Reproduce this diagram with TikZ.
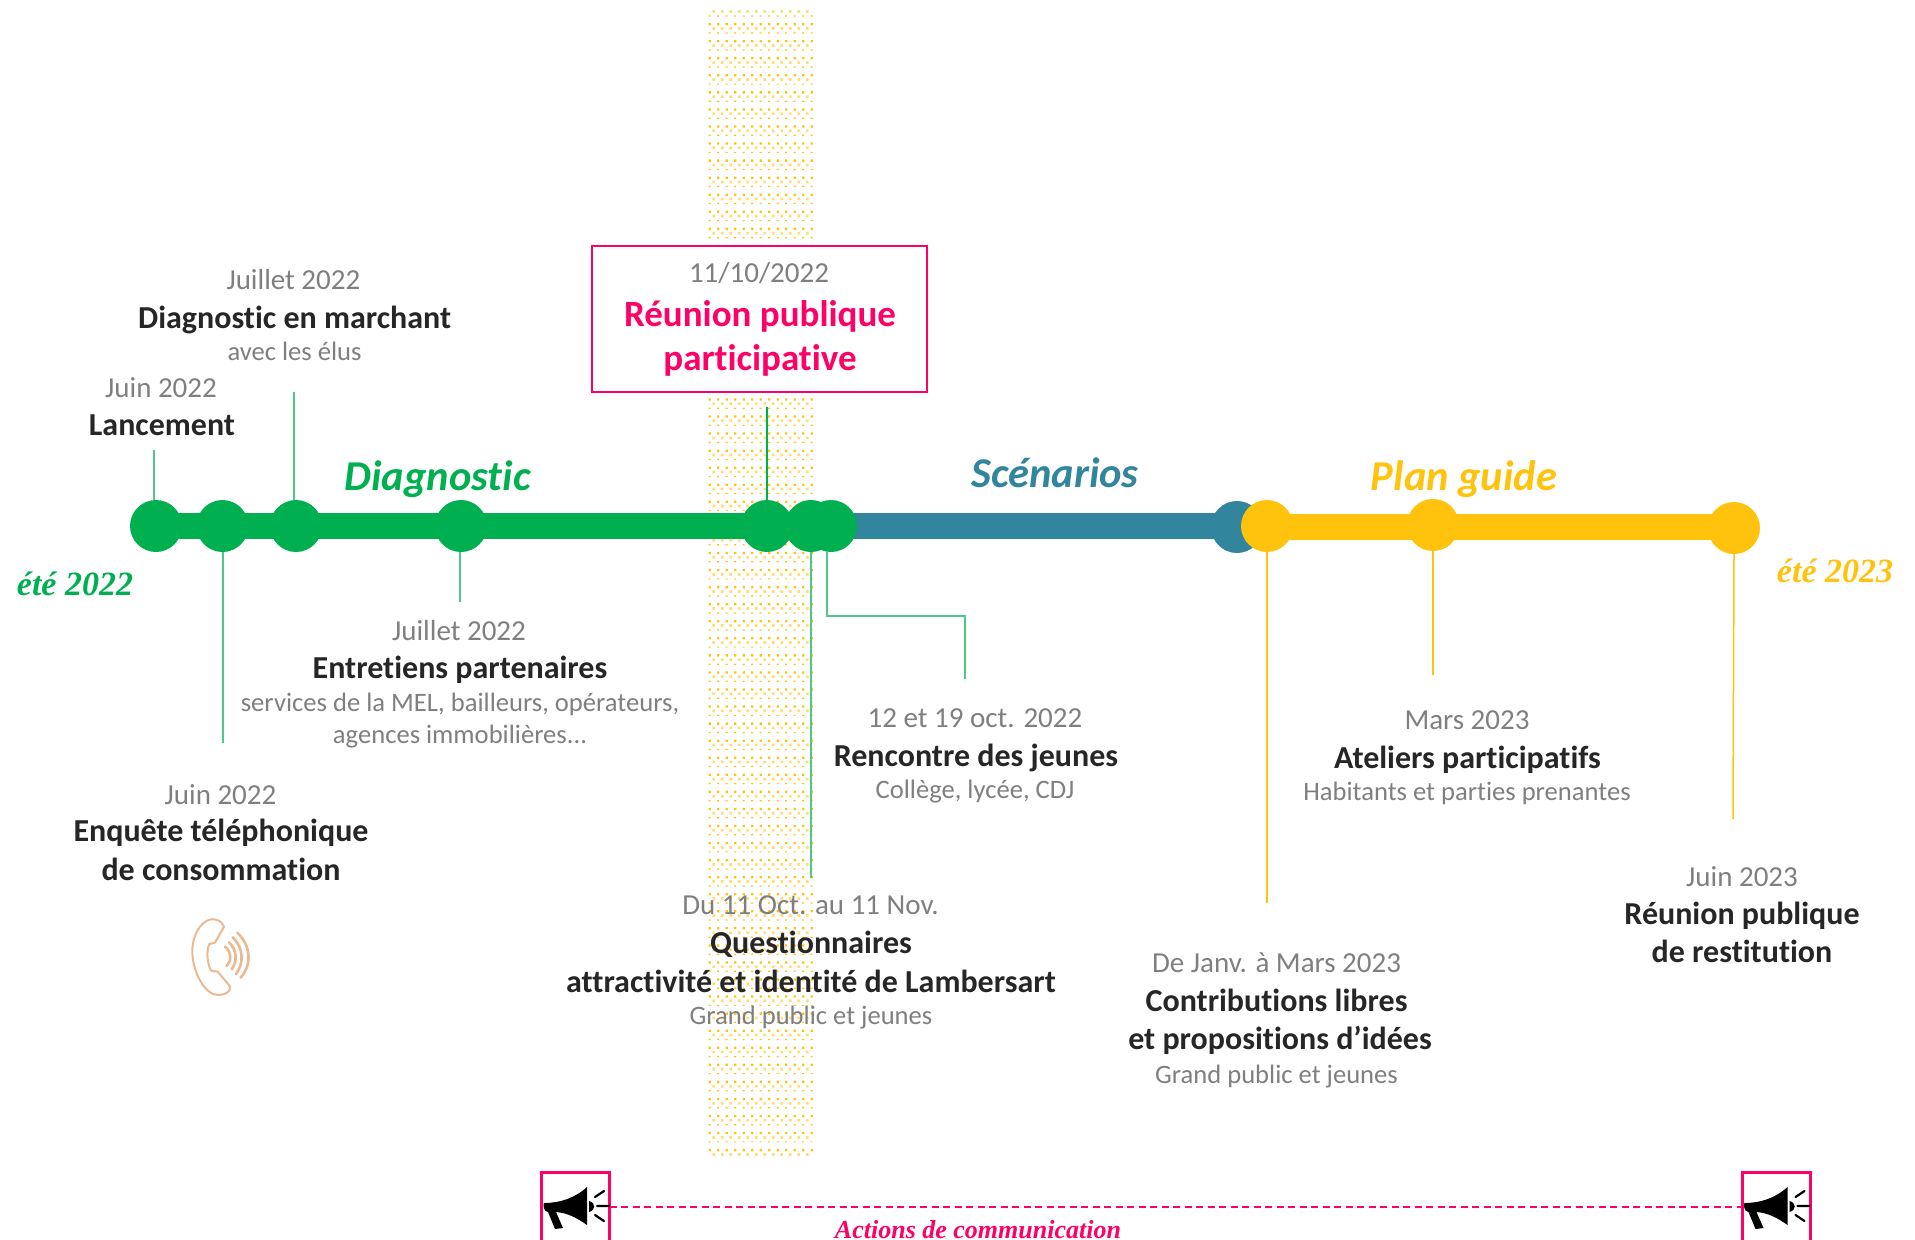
\documentclass[tikz,border=0pt]{standalone}
\usepackage{fontspec}
\setmainfont{Carlito}[Ligatures=NoCommon]
\newfontfamily\scriptf{Liberation Serif}
\definecolor{vert}{HTML}{00B050}
\definecolor{vertl}{HTML}{4CC98A}
\definecolor{bleu}{HTML}{31859C}
\definecolor{jaune}{HTML}{FFC30D}
\definecolor{rose}{HTML}{FF0066}
\definecolor{gristxt}{HTML}{7F7F7F}
\definecolor{noirtxt}{HTML}{262626}
\definecolor{tel}{HTML}{EBB88F}
\tikzset{
 x=1pt,y=-1pt,
 txt/.style={inner sep=0pt,anchor=center,text height=.72em,text depth=.2em,align=center},
 datel/.style={txt,yshift=-7pt,text=gristxt,font=\fontsize{29}{32}\selectfont},
 sub/.style={txt,yshift=-6pt,text=gristxt,font=\fontsize{26.6}{30}\selectfont},
 tit/.style={txt,yshift=-8pt,text=noirtxt,font=\fontsize{32}{36}\bfseries\selectfont},
 boxtit/.style={txt,yshift=-10pt,text=rose,font=\fontsize{37}{40}\bfseries\selectfont},
 phase/.style={txt,yshift=-11pt,font=\fontsize{42.5}{46}\bfseries\itshape\selectfont},
 ete/.style={txt,yshift=-9pt,font=\fontsize{34}{40}\scriptf\bfseries\itshape\selectfont},
 dot/.style={circle,fill=#1,draw=none,minimum size=52pt,inner sep=0pt},
 bar/.style={line width=26.5pt,draw=#1},
 leadg/.style={draw=vertl,line width=1.8pt},
 leady/.style={draw=jaune,line width=1.5pt},
 megabox/.style={draw=rose,line width=3pt},
}
\newcommand{\megaphone}{%
 \fill[black] (544,1203) .. controls (560,1203) and (575,1198) .. (587,1187) -- (587,1225)
   .. controls (577,1218) and (568,1213) .. (556,1212) -- (563,1228) -- (555,1229) -- (548,1212)
   .. controls (543,1212) and (543,1203) .. (544,1203) -- cycle;
 \fill[black] (589,1201) .. controls (596,1203) and (596,1210) .. (589,1212) -- cycle;
 \draw[black,line width=2.2pt,line cap=round] (595,1197) -- (604,1191) (597,1206) -- (609,1206) (595,1215) -- (604,1221);
}
\begin{document}
\begin{tikzpicture}
\useasboundingbox (0,0) rectangle (1915,1240);
% dotted band
\fill[jaune!55] \foreach \r in {0,...,67}{\foreach \c in {0,...,11}{({712.3+8.5*\c},{10+17.06*\r}) rectangle ++(2.8,2.8)}};
\fill[jaune] \foreach \r in {0,...,66}{\foreach \c in {0,...,12}{({708.5+8.5*\c},{15.3+17.06*\r}) rectangle ++(2.2,1.2)}};
\fill[jaune] \foreach \r in {0,...,66}{\foreach \c in {0,...,12}{({708.5+8.5*\c},{23+17.06*\r}) rectangle ++(2.3,2.3)}};
% box
\node[draw=rose,line width=2pt,fill=white,minimum width=335pt,minimum height=146pt,inner sep=0pt] (box) at (759.5,318.5) {};
% dots
\node[dot=vert] (d1) at (156,526) {};
\node[dot=vert] (d2) at (222.5,526) {};
\node[dot=vert] (d3) at (296,526) {};
\node[dot=vert] (d4) at (461,526) {};
\node[dot=vert] (d5) at (767,526) {};
\node[dot=bleu] (t1) at (1237,527) {};
\coordinate (t0) at (831,526);
\draw[bar=bleu] (t0) -- (t0 -| t1);
\node[dot=jaune] (y1) at (1267,526) {};
\node[dot=jaune] (y2) at (1433,525) {};
\node[dot=jaune] (y3) at (1734,528) {};
\node[dot=vert] (d7) at (t0) {};
\node[dot=vert] (d6) at (811,526) {};
\draw[bar=vert] (d1.center) -- (d5.center);
\coordinate (yb) at (0,527);
\draw[bar=jaune] (y1 |- yb) -- (y3 |- yb);
% leader free ends
\coordinate (e1) at (154,450);
\coordinate (e2) at (223,743);
\coordinate (e3) at (294,392);
\coordinate (e4) at (460,602);
\coordinate (e5) at (767,407);
\coordinate (e6) at (811,878);
\coordinate (e7) at (827,616);
\coordinate (e7b) at (965,616);
\coordinate (e7c) at (965,679);
\coordinate (f1) at (1267,903);
\coordinate (f2) at (1433,675);
\coordinate (f3) at (1733,819);
\draw[leadg] (e1) -- (e1 |- d1.north);
\draw[leadg] (e2) -- (e2 |- d2.south);
\draw[leadg] (e3) -- (e3 |- d3.north);
\draw[leadg] (e4) -- (e4 |- d4.south);
\draw[draw=vert,line width=1.5pt] (e5) -- (d5.north);
\draw[leadg] (e6) -- (d6.south);
\draw[leadg] (e7 |- d7.south) -- (e7) -- (e7b) -- (e7c);
\draw[leady] (f1) -- (y1.south);
\draw[leady] (f2) -- (y2.south);
\draw[leady] (f3) -- (y3.south);
% phases
\node[phase,text=vert] (pd) at (437.6,477) {Diagnostic};
\node[phase,text=bleu] (ps) at (1055,474) {Scénarios};
\node[phase,text=jaune] (pp) at (1464,477) {Plan guide};
\node[ete,text=vert] (e22) at (75,584) {été 2022};
\node[ete,text=jaune] (e23) at (1835,571) {été 2023};
% labels
\node[datel] (a1) at (293.4,280) {Juillet 2022};
\node[tit] (a2) at (294.6,318) {Diagnostic en marchant};
\node[sub] (a3) at (294.6,352) {avec les élus};
\node[datel] (b1) at (161,387.5) {Juin 2022};
\node[tit] (b2) at (162,425) {Lancement};
\node[datel] (c1) at (459,631) {Juillet 2022};
\node[tit] (c2) at (460,667.5) {Entretiens partenaires};
\node[sub] (c3) at (460,703) {services de la MEL, bailleurs, opérateurs,};
\node[sub] (c4) at (460,735) {agences immobilières...};
\node[datel] (g1) at (220.5,795) {Juin 2022};
\node[tit] (g2) at (221,831) {Enquête téléphonique};
\node[tit] (g3) at (221,870) {de consommation};
\node[datel] (h1) at (759,273) {11/10/2022};
\node[boxtit] (h2) at (760,314) {Réunion publique};
\node[boxtit] (h3) at (760,358) {participative};
\node[datel] (i1) at (975,718) {12 et 19 oct. 2022};
\node[tit] (i2) at (976,755.5) {Rencontre des jeunes};
\node[sub] (i3) at (975,790) {Collège, lycée, CDJ};
\node[datel] (j1) at (810.5,905) {Du 11 Oct. au 11 Nov.};
\node[tit] (j2) at (811,942.5) {Questionnaires};
\node[tit] (j3) at (811,982) {attractivité et identité de Lambersart};
\node[sub] (j4) at (811,1016) {Grand public et jeunes};
\node[datel] (k1) at (1467,720) {Mars 2023};
\node[tit] (k2) at (1467.5,758) {Ateliers participatifs};
\node[sub] (k3) at (1467,792) {Habitants et parties prenantes};
\node[datel] (l1) at (1276.5,963) {De Janv. à Mars 2023};
\node[tit] (l2) at (1276.5,1001) {Contributions libres};
\node[tit] (l3) at (1280,1039) {et propositions d’idées};
\node[sub] (l4) at (1276.5,1075) {Grand public et jeunes};
\node[datel] (m1) at (1742,877) {Juin 2023};
\node[tit] (m2) at (1742,914) {Réunion publique};
\node[tit] (m3) at (1742,952) {de restitution};
% phone icon
\begin{scope}[shift={(150,880)},x=.3333pt,y=-.3333pt]
\draw[tel,line width=2pt,line join=round] (222,140) .. controls (215,122) and (200,117) .. (182,118)
 .. controls (150,125) and (125,170) .. (127,220) .. controls (130,280) and (165,345) .. (205,345)
 .. controls (225,345) and (243,335) .. (240,320) .. controls (230,305) and (215,290) .. (203,275)
 .. controls (195,270) and (190,278) .. (183,272) .. controls (172,250) and (168,215) .. (178,192)
 .. controls (182,188) and (190,192) .. (195,188) -- cycle;
\draw[tel,line width=2.6pt,line cap=round] (225,200) .. controls (245,215) and (245,245) .. (230,258);
\draw[tel,line width=2.6pt,line cap=round] (237,187) .. controls (262,210) and (262,245) .. (245,268);
\draw[tel,line width=2.6pt,line cap=round] (248,172) .. controls (282,205) and (282,250) .. (258,282);
\draw[tel,line width=2.6pt,line cap=round] (262,158) .. controls (305,200) and (305,255) .. (272,293);
\end{scope}
% communication
\coordinate (m1a) at (541.5,1172.7);
\coordinate (m1b) at (609.5,1172.7);
\coordinate (m2a) at (1742,1172.7);
\coordinate (m2b) at (1810,1172.7);
\coordinate (mx) at (0,1245);
\draw[megabox] (m1a |- mx) -- (m1a) -- (m1b) -- (m1b |- mx);
\draw[megabox] (m2a |- mx) -- (m2a) -- (m2b) -- (m2b |- mx);
\megaphone
\begin{scope}[xshift=1200.5pt]\megaphone\end{scope}
\coordinate (da) at (609.5,1207);
\coordinate (db) at (1742,1207);
\draw[rose,line width=2.5pt,dash pattern=on 7pt off 4.5pt] (da) -- (db);
\node[txt,yshift=-5pt,text=rose,font=\fontsize{26}{30}\scriptf\bfseries\itshape\selectfont] (ac) at (978,1231) {Actions de communication};
\end{tikzpicture}
\end{document}
